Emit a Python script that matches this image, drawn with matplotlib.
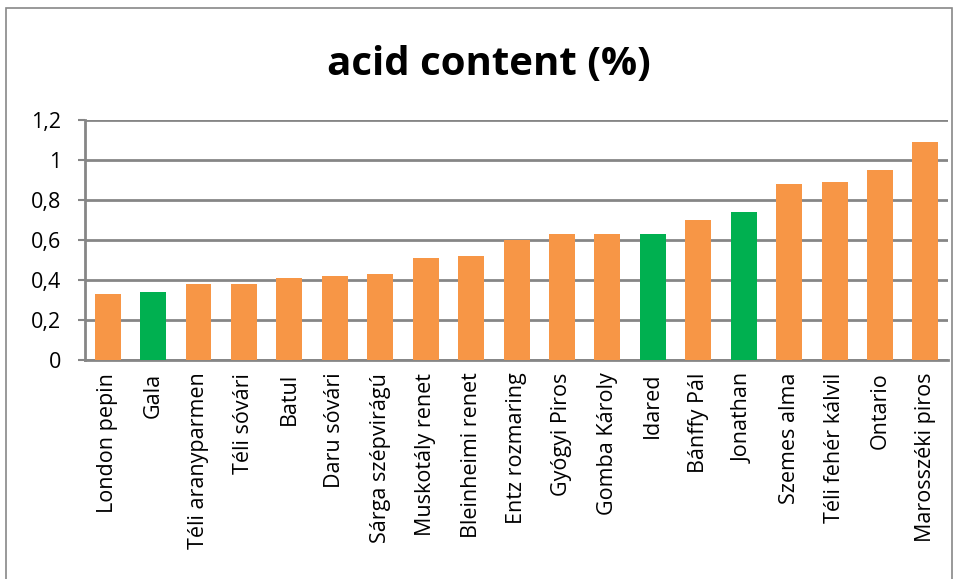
import matplotlib.pyplot as plt
from matplotlib.patches import Rectangle
from matplotlib.ticker import FuncFormatter

# acid content values
varieties = ['London pepin', 'Gala', 'Téli aranyparmen', 'Téli sóvári', 'Batul',
             'Daru sóvári', 'Sárga szépvirágú', 'Muskotály renet', 'Bleinheimi renet',
             'Entz rozmaring', 'Gyógyi Piros', 'Gomba Károly', 'Idared', 'Bánffy Pál',
             'Jonathan', 'Szemes alma', 'Téli fehér kálvil', 'Ontario', 'Marosszéki piros']
acid = [0.33, 0.34, 0.38, 0.38, 0.41, 0.42, 0.43, 0.51, 0.52, 0.60,
        0.63, 0.63, 0.63, 0.70, 0.74, 0.88, 0.89, 0.95, 1.09]
highlighted = ['Gala', 'Idared', 'Jonathan']

orange = '#F79646'
green = '#00B050'
colors = [green if v in highlighted else orange for v in varieties]

plt.rcParams['font.family'] = ['Open Sans', 'DejaVu Sans']

fig = plt.figure(figsize=(9.58, 5.79), dpi=100)
ax = fig.add_axes([0.0887, 0.378, 0.901, 0.4145])

x = range(len(varieties))
ax.bar(x, acid, width=0.57, color=colors, zorder=3)

ax.set_ylim(0, 1.2)
ax.set_xlim(-0.5, len(varieties) - 0.5)
ax.set_yticks([0, 0.2, 0.4, 0.6, 0.8, 1.0, 1.2])
ax.yaxis.set_major_formatter(FuncFormatter(lambda v, p: ('%g' % round(v, 1)).replace('.', ',')))
ax.grid(axis='y', color='#868686', linewidth=2, zorder=0)

ax.set_xticks(list(x))
ax.set_xticklabels(varieties, rotation=90, fontsize=15.5)
ax.tick_params(axis='y', labelsize=15.5, length=5, color='#868686', width=1.5, pad=12)
ax.tick_params(axis='x', length=0, pad=9)

for s in ['top', 'right']:
    ax.spines[s].set_visible(False)
for s in ['left', 'bottom']:
    ax.spines[s].set_color('#868686')
    ax.spines[s].set_linewidth(2)

fig.text(0.51, 0.888, 'acid content (%)', ha='center', va='center',
         fontsize=29, fontweight='bold')

# chart border
fig.patches.append(Rectangle((0.006, -0.01), 0.988, 0.996, transform=fig.transFigure,
                             fill=False, edgecolor='#888888', linewidth=1.2))

fig.savefig('out.png', dpi=100)
